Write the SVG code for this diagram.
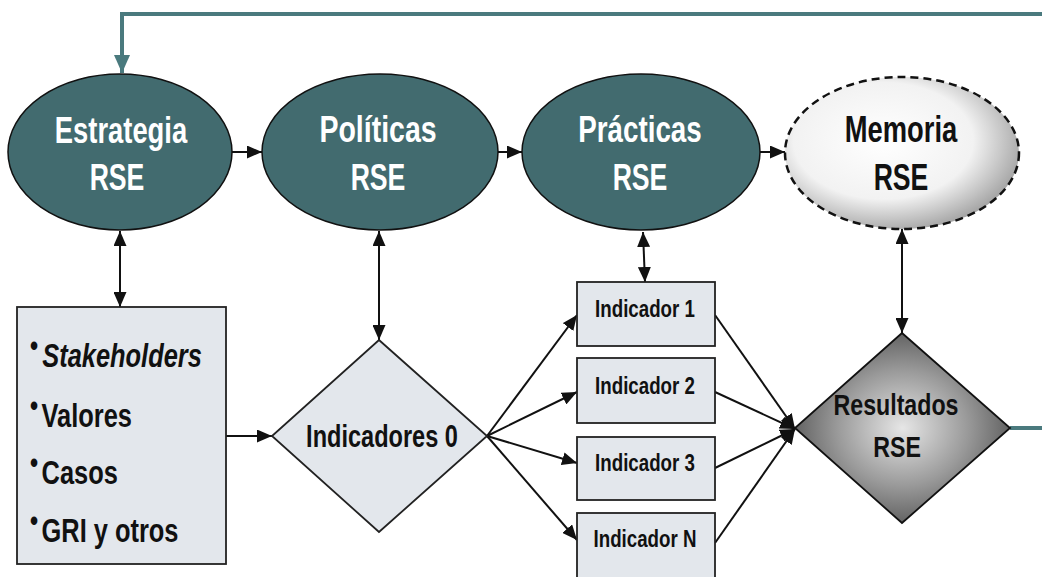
<svg xmlns="http://www.w3.org/2000/svg" width="1042" height="577" viewBox="0 0 1042 577">
<style>
text{font-family:"Liberation Sans",Arial,sans-serif;font-weight:bold}
.m{text-anchor:middle}
.wt{fill:#ffffff;font-size:37px}
.dk{fill:#111111;font-size:37px}
.bx{fill:#111111;font-size:33px}
.bul{font-size:30px}
.ind{fill:#111111;font-size:24px}
.oval{fill:#426b6f;stroke:#111;stroke-width:1.5}
.box{fill:#e3e7ec;stroke:#222;stroke-width:1.8}
.cb{stroke:#111;stroke-width:2;fill:none;marker-end:url(#ah)}
.cd{stroke:#111;stroke-width:2;fill:none;marker-end:url(#ah);marker-start:url(#ah)}
.teal{stroke:#4a7a7e;stroke-width:4;fill:none}
</style>
<defs>
<marker id="ah" viewBox="0 0 15 13" refX="15" refY="6.5" markerWidth="15" markerHeight="13" markerUnits="userSpaceOnUse" orient="auto-start-reverse">
<path d="M0,0 L15,6.5 L0,13 Z" fill="#111"/>
</marker>
<marker id="aht" viewBox="0 0 18 16" refX="18" refY="8" markerWidth="18" markerHeight="16" markerUnits="userSpaceOnUse" orient="auto">
<path d="M0,0 L18,8 L0,16 Z" fill="#4a7a7e"/>
</marker>
<radialGradient id="gm" cx="42%" cy="42%" r="64%">
<stop offset="0" stop-color="#ffffff"/>
<stop offset="0.6" stop-color="#f2f2f2"/>
<stop offset="1" stop-color="#9a9a9a"/>
</radialGradient>
<radialGradient id="gr" cx="50%" cy="50%" r="55%">
<stop offset="0" stop-color="#e6e6e6"/>
<stop offset="0.55" stop-color="#9a9a9a"/>
<stop offset="1" stop-color="#555555"/>
</radialGradient>
</defs>

<g id="connectors">
<path class="teal" d="M1042,14 H122 V73" marker-end="url(#aht)"/>
<path class="teal" d="M1010,428 H1042"/>
<line class="cb" x1="232" y1="152" x2="262" y2="152"/>
<line class="cb" x1="498" y1="152" x2="522" y2="152"/>
<line class="cb" x1="760" y1="152" x2="785" y2="152"/>
<line class="cd" x1="120" y1="231" x2="120" y2="307"/>
<line class="cd" x1="379" y1="231" x2="379" y2="340"/>
<line class="cd" x1="643" y1="232" x2="645" y2="282"/>
<line class="cd" x1="902" y1="229" x2="902" y2="333"/>
<line class="cb" x1="226" y1="436" x2="272" y2="436"/>
<line class="cb" x1="487" y1="436" x2="577" y2="315"/>
<line class="cb" x1="487" y1="436" x2="577" y2="392"/>
<line class="cb" x1="487" y1="436" x2="577" y2="463"/>
<line class="cb" x1="487" y1="436" x2="577" y2="540"/>
<line class="cb" x1="715" y1="315" x2="795" y2="429"/>
<line class="cb" x1="715" y1="392" x2="795" y2="429"/>
<line class="cb" x1="715" y1="468" x2="795" y2="429"/>
<line class="cb" x1="715" y1="543" x2="795" y2="429"/>
</g>

<g id="estrategia">
<ellipse class="oval" cx="120" cy="152" rx="112" ry="78"/>
<text class="m wt" transform="translate(121,143) scale(0.74,1)">Estrategia</text>
<text class="m wt" transform="translate(117,190) scale(0.72,1)">RSE</text>
</g>
<g id="politicas">
<ellipse class="oval" cx="380" cy="152" rx="118" ry="78"/>
<text class="m wt" transform="translate(378,142) scale(0.77,1)">Políticas</text>
<text class="m wt" transform="translate(378,190) scale(0.72,1)">RSE</text>
</g>
<g id="practicas">
<ellipse class="oval" cx="641" cy="152" rx="119" ry="78"/>
<text class="m wt" transform="translate(640,142) scale(0.75,1)">Prácticas</text>
<text class="m wt" transform="translate(640,190) scale(0.72,1)">RSE</text>
</g>
<g id="memoria">
<ellipse cx="902" cy="153" rx="117" ry="76" fill="url(#gm)" stroke="#111" stroke-width="2.5" stroke-dasharray="8 5"/>
<text class="m dk" transform="translate(901,142) scale(0.74,1)">Memoria</text>
<text class="m dk" transform="translate(901,190) scale(0.72,1)">RSE</text>
</g>

<g id="lista">
<rect class="box" x="17" y="307" width="209" height="257"/>
<text class="bx" transform="translate(30,367) scale(0.77,1)"><tspan class="bul" x="0" dy="-11">•</tspan><tspan x="16" dy="11" font-style="italic">Stakeholders</tspan></text>
<text class="bx" transform="translate(30,427) scale(0.77,1)"><tspan class="bul" x="0" dy="-11">•</tspan><tspan x="15" dy="11">Valores</tspan></text>
<text class="bx" transform="translate(30,484) scale(0.77,1)"><tspan class="bul" x="0" dy="-11">•</tspan><tspan x="15" dy="11">Casos</tspan></text>
<text class="bx" transform="translate(30,542) scale(0.77,1)"><tspan class="bul" x="0" dy="-11">•</tspan><tspan x="15" dy="11">GRI y otros</tspan></text>
</g>

<g id="indicadores0">
<polygon points="379,340 487,436 379,532 272,436" fill="#e3e7ec" stroke="#222" stroke-width="1.8"/>
<text class="m" transform="translate(382,447) scale(0.76,1)" style="font-size:31px;fill:#111">Indicadores 0</text>
</g>

<g id="indicador1">
<rect class="box" x="577" y="282" width="138" height="64"/>
<text class="m ind" transform="translate(645,317) scale(0.78,1)">Indicador 1</text>
</g>
<g id="indicador2">
<rect class="box" x="577" y="358" width="138" height="65"/>
<text class="m ind" transform="translate(645,394) scale(0.78,1)">Indicador 2</text>
</g>
<g id="indicador3">
<rect class="box" x="577" y="437" width="138" height="63"/>
<text class="m ind" transform="translate(645,471) scale(0.78,1)">Indicador 3</text>
</g>
<g id="indicadorN">
<rect class="box" x="577" y="513" width="138" height="70"/>
<text class="m ind" transform="translate(645,547) scale(0.78,1)">Indicador N</text>
</g>

<g id="resultados">
<polygon points="902,333 1010,428 902,523 795,428" fill="url(#gr)" stroke="#111" stroke-width="1.8"/>
<text class="m" transform="translate(896,415) scale(0.8,1)" style="font-size:29px;fill:#111">Resultados</text>
<text class="m" transform="translate(897,457) scale(0.8,1)" style="font-size:29px;fill:#111">RSE</text>
</g>
</svg>
